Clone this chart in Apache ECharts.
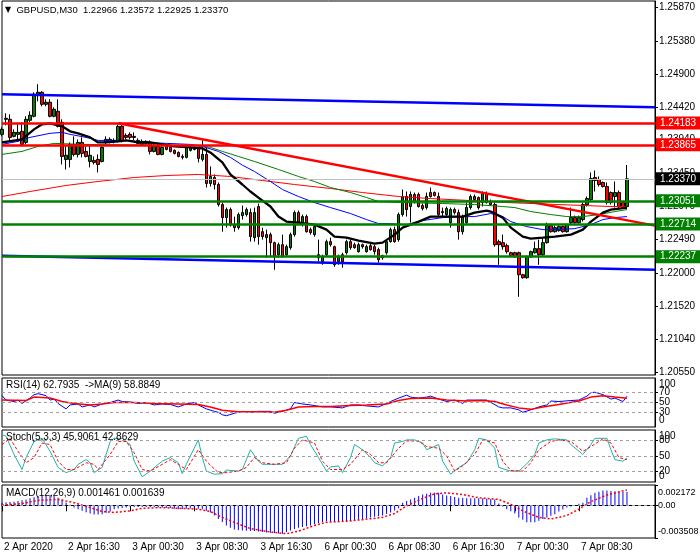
<!DOCTYPE html>
<html><head><meta charset="utf-8">
<script src="https://cdn.jsdelivr.net/npm/echarts@6/dist/echarts.min.js"></script>
<style>html,body{margin:0;padding:0;background:#fff}#c{width:700px;height:560px}</style>
</head><body><div id="c"></div>
<script>
const FONT = '"Liberation Sans", Arial, sans-serif';
const cats = Array.from({length: 164}, (_, i) => String(i));
const tickLabels = ['2 Apr 2020','2 Apr 16:30','3 Apr 00:30','3 Apr 08:30','3 Apr 16:30','6 Apr 00:30','6 Apr 08:30','6 Apr 16:30','7 Apr 00:30','7 Apr 08:30'];
const priceTicks = [1.25870,1.25380,1.24900,1.24420,1.23940,1.23450,1.22970,1.22490,1.22000,1.21520,1.21040,1.20550];
const rsiLevels = [70,50,30];
const stochLevels = [80,50,20];
const oscBounds = [100,0];
const macdTicks = [0.002172,0,-0.003508];
// [open, close, low, high]
const candles = [
[1.24018,1.24091,1.23989,1.24120],[1.24252,1.24237,1.24149,1.24325],[1.24237,1.23974,1.23916,1.24310],[1.23989,1.24047,1.23974,1.24091],
[1.24018,1.24047,1.23945,1.24164],[1.24062,1.23872,1.23843,1.24193],[1.23901,1.24237,1.23872,1.24281],[1.24223,1.24296,1.24193,1.24354],
[1.24281,1.24602,1.24266,1.24631],[1.24602,1.24631,1.24500,1.24748],[1.24631,1.24456,1.24427,1.24646],[1.24456,1.24485,1.24427,1.24529],
[1.24485,1.24281,1.24266,1.24529],[1.24281,1.24383,1.24266,1.24412],[1.24354,1.24135,1.24120,1.24529],[1.24193,1.23697,1.23580,1.24237],
[1.23653,1.23713,1.23507,1.23843],[1.23653,1.23872,1.23537,1.23901],[1.23872,1.23726,1.23697,1.23989],[1.23726,1.23901,1.23683,1.23945],
[1.23901,1.23741,1.23683,1.23974],[1.23770,1.23697,1.23683,1.23843],[1.23624,1.23713,1.23537,1.23843],[1.23639,1.23610,1.23580,1.23697],
[1.23653,1.23580,1.23463,1.23726],[1.23624,1.23829,1.23610,1.23843],[1.23901,1.23945,1.23872,1.23989],[1.23945,1.23916,1.23887,1.23974],
[1.23916,1.23930,1.23887,1.23960],[1.23916,1.24135,1.23901,1.24164],[1.24135,1.23916,1.23901,1.24164],[1.24003,1.23974,1.23945,1.24033],
[1.24018,1.23974,1.23945,1.24047],[1.23974,1.23989,1.23930,1.24047],[1.23930,1.23887,1.23872,1.23960],[1.23872,1.23916,1.23857,1.23945],
[1.23916,1.23887,1.23857,1.23930],[1.23901,1.23770,1.23726,1.23930],[1.23770,1.23843,1.23755,1.23901],[1.23843,1.23726,1.23713,1.23872],
[1.23726,1.23829,1.23713,1.23843],[1.23843,1.23799,1.23785,1.23857],[1.23829,1.23770,1.23755,1.23843],[1.23785,1.23741,1.23726,1.23799],
[1.23755,1.23697,1.23683,1.23770],[1.23697,1.23683,1.23653,1.23726],[1.23683,1.23829,1.23668,1.23843],[1.23785,1.23829,1.23770,1.23857],
[1.23829,1.23799,1.23785,1.23843],[1.23829,1.23668,1.23610,1.23843],[1.23653,1.23726,1.23624,1.23930],[1.23726,1.23303,1.23244,1.23829],
[1.23303,1.23405,1.23259,1.23551],[1.23390,1.23288,1.23215,1.23434],[1.23288,1.22996,1.22967,1.23317],[1.22996,1.22806,1.22601,1.23025],
[1.22806,1.22923,1.22660,1.22952],[1.22923,1.22704,1.22675,1.22952],[1.22704,1.22660,1.22601,1.22821],[1.22660,1.22850,1.22631,1.22879],
[1.22835,1.22879,1.22777,1.22981],[1.22850,1.22923,1.22821,1.22952],[1.22879,1.22529,1.22456,1.22938],[1.22514,1.22879,1.22456,1.22952],
[1.22967,1.22529,1.22412,1.23011],[1.22601,1.22529,1.22485,1.22660],[1.22514,1.22558,1.22221,1.22631],[1.22558,1.22441,1.22237,1.22587],
[1.22441,1.22237,1.22047,1.22456],[1.22266,1.22412,1.22221,1.22441],[1.22412,1.22237,1.22221,1.22558],[1.22266,1.22383,1.22237,1.22412],
[1.22368,1.22558,1.22339,1.22587],[1.22558,1.22879,1.22529,1.22909],[1.22879,1.22733,1.22704,1.22909],[1.22733,1.22821,1.22675,1.22850],
[1.22821,1.22601,1.22587,1.22850],[1.22631,1.22587,1.22558,1.22660],[1.22558,1.22675,1.22529,1.22704],[1.22266,1.22221,1.22164,1.22485],
[1.22164,1.22237,1.22119,1.22266],[1.22266,1.22456,1.22237,1.22485],[1.22456,1.22412,1.22383,1.22514],[1.22383,1.22119,1.22090,1.22397],
[1.22164,1.22237,1.22119,1.22266],[1.22266,1.22164,1.22076,1.22295],[1.22295,1.22456,1.22266,1.22485],[1.22456,1.22368,1.22339,1.22485],
[1.22412,1.22368,1.22354,1.22441],[1.22310,1.22412,1.22295,1.22441],[1.22412,1.22383,1.22354,1.22427],[1.22310,1.22383,1.22295,1.22412],
[1.22397,1.22339,1.22325,1.22427],[1.22383,1.22310,1.22266,1.22412],[1.22339,1.22193,1.22150,1.22368],[1.22221,1.22251,1.22193,1.22266],
[1.22295,1.22456,1.22266,1.22485],[1.22456,1.22631,1.22441,1.22660],[1.22631,1.22456,1.22441,1.22675],[1.22485,1.22850,1.22456,1.22879],
[1.22850,1.23113,1.22821,1.23215],[1.23113,1.22923,1.22821,1.23186],[1.22967,1.23142,1.22733,1.23186],[1.23142,1.23040,1.23011,1.23171],
[1.23142,1.22967,1.22952,1.23171],[1.22981,1.22938,1.22909,1.23011],[1.22952,1.23113,1.22923,1.23171],[1.23171,1.23113,1.23098,1.23244],
[1.23171,1.23127,1.23113,1.23186],[1.23113,1.22850,1.22821,1.23171],[1.22894,1.22879,1.22821,1.22952],[1.22850,1.22938,1.22821,1.22967],
[1.22733,1.22923,1.22660,1.22952],[1.22923,1.22879,1.22850,1.22952],[1.22879,1.22601,1.22485,1.22923],[1.22601,1.22821,1.22558,1.22850],
[1.22733,1.22952,1.22704,1.23025],[1.22952,1.23113,1.22923,1.23142],[1.23113,1.23069,1.23040,1.23142],[1.23098,1.22952,1.22923,1.23113],
[1.23025,1.23157,1.22967,1.23186],[1.23157,1.23025,1.23011,1.23186],[1.23040,1.22996,1.22981,1.23069],[1.22996,1.22412,1.22383,1.23025],
[1.22456,1.22412,1.22119,1.22485],[1.22441,1.22383,1.22339,1.22558],[1.22397,1.22310,1.22281,1.22427],[1.22295,1.22251,1.22237,1.22310],
[1.22295,1.22237,1.22221,1.22310],[1.22295,1.21974,1.21653,1.22310],[1.21974,1.21931,1.21916,1.21988],[1.21931,1.22237,1.21916,1.22251],
[1.22237,1.22310,1.22221,1.22325],[1.22295,1.22354,1.22281,1.22456],[1.22354,1.22266,1.22119,1.22485],[1.22266,1.22441,1.22237,1.22514],
[1.22441,1.22689,1.22427,1.22733],[1.22689,1.22601,1.22587,1.22718],[1.22601,1.22660,1.22587,1.22689],[1.22616,1.22675,1.22601,1.22689],
[1.22675,1.22601,1.22587,1.22689],[1.22601,1.22704,1.22587,1.22718],[1.22733,1.22806,1.22704,1.22952],[1.22806,1.22733,1.22718,1.22835],
[1.22733,1.22806,1.22718,1.22835],[1.22777,1.22996,1.22748,1.23025],[1.22996,1.23083,1.22967,1.23113],[1.23069,1.23375,1.23040,1.23463],
[1.23390,1.23346,1.23186,1.23492],[1.23361,1.23288,1.23259,1.23405],[1.23317,1.23259,1.23244,1.23332],[1.23259,1.23025,1.22996,1.23317],
[1.23171,1.23025,1.22996,1.23186],[1.23113,1.23171,1.22952,1.23332],[1.23171,1.22967,1.22923,1.23200],[1.23025,1.22952,1.22938,1.23040],
[1.22966,1.23370,1.22925,1.23572]
];
// moving averages read at sample bars: [bar, price]
const maBlack = [[0,1.23901],[5,1.23945],[8,1.24091],[10,1.24164],[12,1.24179],[15,1.24135],[17,1.24062],[19,1.24033],[22,1.23974],[24,1.23901],[26,1.23901],[29,1.23916],[31,1.23930],[34,1.23901],[37,1.23901],[43,1.23843],[47,1.23829],[50,1.23814],[52,1.23755],[55,1.23610],[57,1.23434],[60,1.23288],[62,1.23186],[64,1.23098],[67,1.22967],[69,1.22821],[71,1.22748],[74,1.22733],[78,1.22704],[81,1.22631],[83,1.22529],[86,1.22514],[89,1.22470],[93,1.22427],[95,1.22441],[98,1.22558],[100,1.22660],[104,1.22748],[107,1.22821],[111,1.22821],[115,1.22821],[118,1.22879],[121,1.22909],[122,1.22894],[125,1.22806],[127,1.22660],[130,1.22529],[132,1.22500],[135,1.22514],[138,1.22529],[142,1.22558],[145,1.22631],[147,1.22748],[150,1.22879],[152,1.22923],[156,1.22952]];
const maBlue = [[0,1.23872],[4,1.23916],[7,1.23974],[12,1.24033],[15,1.24047],[17,1.24018],[21,1.23974],[24,1.23930],[28,1.23930],[32,1.23930],[35,1.23901],[41,1.23887],[47,1.23872],[50,1.23843],[54,1.23770],[57,1.23683],[60,1.23570],[63,1.23478],[67,1.23332],[70,1.23215],[74,1.23113],[78,1.23025],[82,1.22952],[87,1.22865],[91,1.22777],[94,1.22719],[96,1.22719],[101,1.22704],[105,1.22763],[110,1.22806],[115,1.22821],[118,1.22821],[122,1.22865],[125,1.22821],[127,1.22748],[131,1.22675],[135,1.22631],[139,1.22631],[143,1.22646],[147,1.22704],[150,1.22777],[153,1.22806],[156,1.22821]];
const maGreen = [[0,1.23726],[5,1.23770],[9,1.23843],[13,1.23887],[20,1.23872],[30,1.23865],[40,1.23857],[49,1.23857],[52,1.23829],[55,1.23770],[59,1.23697],[63,1.23624],[69,1.23507],[74,1.23405],[78,1.23332],[82,1.23244],[87,1.23171],[91,1.23098],[94,1.23040],[100,1.23025],[110,1.23011],[118,1.22996],[125,1.22967],[128,1.22952],[132,1.22894],[137,1.22850],[141,1.22821],[145,1.22821],[149,1.22850],[153,1.22894],[156,1.22923]];
const maRed = [[0,1.23113],[7,1.23186],[16,1.23274],[24,1.23332],[33,1.23390],[41,1.23419],[49,1.23434],[57,1.23405],[65,1.23346],[73,1.23288],[82,1.23230],[90,1.23171],[99,1.23113],[107,1.23083],[117,1.23054],[126,1.23025],[139,1.22996],[152,1.22967],[156,1.22967]];
const redLevels = [1.24183, 1.23865];
const greenLevels = [1.23051, 1.22714, 1.22237];
const lastPrice = 1.23370;
const channelUpper = [[0,1.24602],[163,1.24412]];
const channelLower = [[0,1.22251],[163,1.22047]];
const trendLine = [[29,1.24179],[163,1.22689]];
// indicators
const rsi = [[0,64],[1,55],[3,52],[4,55],[5,48],[7,59],[8,66],[9,68],[11,64],[12,55],[13,57],[14,48],[16,37],[17,45],[19,47],[20,41],[22,45],[23,41],[25,47],[27,50],[29,55],[30,52],[32,51],[34,48],[36,50],[38,45],[40,47],[42,46],[44,41],[46,47],[48,50],[49,45],[51,37],[53,32],[54,30],[55,25],[56,23],[58,28],[60,32],[62,30],[64,32],[67,32],[68,28],[70,32],[72,37],[73,50],[75,47],[77,45],[80,41],[82,41],[85,39],[87,45],[89,45],[91,43],[94,41],[96,48],[97,52],[99,59],[101,65],[102,61],[104,59],[106,61],[107,63],[109,57],[111,52],[113,55],[115,48],[116,55],[118,55],[120,55],[121,55],[124,41],[125,39],[127,39],[129,35],[130,30],[132,35],[134,41],[136,45],[137,53],[139,52],[142,54],[144,55],[146,63],[147,70],[148,71],[150,66],[152,57],[153,59],[155,52],[156,62.79]];
const rsiMA = [[0,55],[6,54],[8,61],[12,59],[15,52],[18,48],[22,45],[25,47],[28,50],[33,50],[38,48],[44,47],[49,46],[52,41],[55,34],[59,31],[63,31],[68,30],[71,34],[74,41],[78,42],[82,42],[87,44],[91,45],[96,47],[99,54],[102,58],[107,59],[111,55],[116,53],[120,54],[123,52],[126,45],[129,39],[132,36],[135,41],[139,46],[144,53],[147,61],[150,64],[153,61],[156,58.88]];
const stochMain = [[0,91],[1,88],[3,53],[5,24],[6,47],[8,78],[10,84],[12,59],[14,28],[16,18],[18,24],[19,34],[21,43],[22,37],[23,18],[25,28],[27,78],[28,84],[30,84],[32,72],[33,40],[35,10],[37,21],[39,34],[40,40],[42,47],[44,37],[45,16],[46,34],[49,81],[50,47],[51,21],[53,15],[55,16],[56,23],[59,21],[60,24],[62,62],[64,40],[65,34],[68,34],[70,34],[72,50],[74,84],[76,88],[77,72],[79,47],[81,21],[82,29],[84,31],[85,18],[87,47],[88,72],[90,62],[92,47],[93,37],[95,31],[97,47],[98,75],[100,78],[101,81],[103,81],[105,75],[106,62],[109,72],[110,40],[112,15],[114,28],[116,37],[118,62],[119,84],[121,81],[123,65],[124,28],[127,21],[129,21],[131,35],[133,53],[134,75],[136,81],[138,83],[141,81],[142,72],[145,53],[147,72],[148,84],[151,84],[152,62],[153,43],[155,40],[156,45.91]];
const stochSignal = [[0,72],[2,84],[4,59],[6,37],[8,47],[10,75],[12,72],[14,40],[16,24],[18,24],[21,37],[23,34],[24,24],[27,53],[29,78],[31,78],[33,56],[35,24],[37,21],[40,34],[42,43],[44,34],[46,24],[49,62],[51,40],[54,18],[56,18],[59,21],[61,28],[63,47],[65,37],[68,34],[71,37],[73,65],[75,81],[78,75],[80,40],[82,24],[85,24],[87,34],[90,62],[92,53],[94,37],[96,37],[99,65],[101,79],[104,79],[106,68],[109,65],[111,50],[113,21],[115,31],[118,53],[120,81],[123,75],[125,40],[127,22],[130,21],[132,37],[134,62],[137,78],[139,81],[142,78],[145,59],[147,68],[150,83],[152,75],[154,47],[156,42.86]];
const macdHist = [2.8e-4,3.2e-4,3.6e-4,3.9e-4,4.6e-4,5.3e-4,6.3e-4,7.4e-4,8.6e-4,9.8e-4,10.4e-4,10.8e-4,11.0e-4,10.0e-4,8.0e-4,6.0e-4,3.0e-4,0.5e-4,-2.5e-4,-4.3e-4,
-6.0e-4,-7.5e-4,-8.8e-4,-10.0e-4,-9.8e-4,-9.5e-4,-8.0e-4,-6.7e-4,-4.2e-4,-3.5e-4,-2.9e-4,-2.5e-4,-2.1e-4,-1.8e-4,-1.8e-4,-1.8e-4,-1.8e-4,-2.0e-4,-2.1e-4,-2.3e-4,
-2.5e-4,-2.8e-4,-3.0e-4,-3.6e-4,-4.2e-4,-4.0e-4,-3.7e-4,-3.4e-4,-3.2e-4,-3.7e-4,-4.2e-4,-6.0e-4,-7.7e-4,-11.0e-4,-14.7e-4,-18.0e-4,-21.7e-4,-24.0e-4,-26.0e-4,-26.5e-4,
-27.0e-4,-27.2e-4,-27.5e-4,-27.7e-4,-28.2e-4,-28.7e-4,-29.1e-4,-29.5e-4,-29.8e-4,-30.2e-4,-30.5e-4,-28.7e-4,-27.0e-4,-25.5e-4,-24.0e-4,-23.2e-4,-22.5e-4,-21.7e-4,-20.3e-4,-19.0e-4,
-18.0e-4,-17.0e-4,-17.5e-4,-18.0e-4,-18.0e-4,-18.0e-4,-18.0e-4,-17.2e-4,-16.5e-4,-15.6e-4,-14.7e-4,-13.8e-4,-13.0e-4,-12.3e-4,-11.7e-4,-11.0e-4,-9.3e-4,-7.7e-4,-5.5e-4,-3.2e-4,
2.8e-4,4.5e-4,6.3e-4,8.0e-4,9.8e-4,11.5e-4,12.4e-4,13.3e-4,13.3e-4,13.3e-4,11.5e-4,10.6e-4,9.8e-4,8.9e-4,8.0e-4,7.7e-4,7.4e-4,7.4e-4,7.4e-4,7.4e-4,
7.4e-4,7.0e-4,6.7e-4,6.3e-4,1.8e-4,-1.2e-4,-4.2e-4,-6.5e-4,-8.8e-4,-13.0e-4,-15.6e-4,-18.2e-4,-18.2e-4,-18.2e-4,-16.5e-4,-14.8e-4,-13.0e-4,-11.2e-4,-9.5e-4,-6.7e-4,
-4.6e-4,-2.5e-4,-1.2e-4,0.3e-4,1.5e-4,2.8e-4,8.0e-4,10.7e-4,13.3e-4,14.5e-4,15.8e-4,15.8e-4,15.4e-4,15.0e-4,14.6e-4,14.3e-4,14.61e-4];
const macdSignal = [[0,0],[5,1.8e-4],[9,5.3e-4],[14,6.3e-4],[18,2.8e-4],[22,-2.5e-4],[25,-6.7e-4],[28,-7.7e-4],[32,-6.0e-4],[35,-3.2e-4],[40,-2.5e-4],[44,-3.2e-4],[49,-4.2e-4],[52,-6.7e-4],[55,-13.0e-4],[59,-20.0e-4],[62,-25.0e-4],[67,-28.7e-4],[71,-30.5e-4],[74,-27.7e-4],[78,-21.7e-4],[81,-18.2e-4],[86,-17.0e-4],[90,-15.4e-4],[95,-13.0e-4],[98,-8.8e-4],[101,-0.7e-4],[105,7.4e-4],[108,12.2e-4],[111,13.3e-4],[115,11.5e-4],[119,8.0e-4],[124,6.3e-4],[127,1.0e-4],[130,-6.0e-4],[134,-13.0e-4],[137,-14.7e-4],[141,-11.0e-4],[144,-4.2e-4],[147,3.9e-4],[151,11.0e-4],[154,14.3e-4],[156,16.39e-4]];

const GL = 2, GW = 653;
const txt = {color:'#000', fontSize:10, fontFamily:FONT};
function hLevel(v, col, lineCol, w){
  return {yAxis:v, lineStyle:{color:lineCol, width:w, type:'solid'},
    label:{show:true, position:'end', distance:1, formatter:v.toFixed(5), color:'#fff', backgroundColor:col,
      padding:[2,4,1,4], fontSize:10, fontFamily:FONT}};
}
function seg(pts, col, w){
  return [{coord:pts[0], lineStyle:{color:col, width:w, type:'solid'}, label:{show:false}}, {coord:pts[1]}];
}
function shiftRich(top, bottom, fs){
  return {t:{padding:[top,0,0,0], fontSize:fs, fontFamily:FONT, color:'#000'}, b:{padding:[0,0,bottom,0], fontSize:fs, fontFamily:FONT, color:'#000'}};
}
function xAx(i){
  const bottom = i === 3;
  const iv = (idx) => idx % 16 === 0 && idx / 16 < tickLabels.length;
  return {type:'category', gridIndex:i, data:cats, boundaryGap:false,
    axisLine:{show:bottom, lineStyle:{color:'#000'}},
    axisTick:{show:bottom, interval:iv, length:6, lineStyle:{color:'#000'}},
    axisLabel:{show:bottom, interval:iv, formatter:(v, idx) => tickLabels[Math.round(idx/16)] || '', align:'left', padding:[0,0,0,2], margin:4, ...txt},
    splitLine:{show:false}};
}
function levelAxis(g, vals){
  return {type:'value', gridIndex:g, position:'right', min:0, max:100, splitLine:{show:false},
    axisLine:{show:true, lineStyle:{color:'#000'}},
    axisTick:{show:true, customValues:vals, length:3, lineStyle:{color:'#000'}},
    axisLabel:{customValues:vals, margin:4, ...txt, formatter:(v) => String(v)}};
}
function boundAxis(g, top, bottom){
  return {type:'value', gridIndex:g, position:'right', min:0, max:100, splitLine:{show:false},
    axisLine:{show:false}, axisTick:{show:false},
    axisLabel:{customValues:oscBounds, margin:4, showMinLabel:true, showMaxLabel:true, ...txt, rich:shiftRich(top,bottom,10),
      formatter:(v) => v === 100 ? '{t|100}' : '{b|0}'}};
}
const chart = echarts.init(document.getElementById('c'), null, {renderer:'canvas'});
const levelStyle = {color:'#a0a0a0', width:1, type:[3,3]};
chart.setOption({
  animation:false,
  backgroundColor:'#fff',
  title:[
    {text:'{tri|▼}  GBPUSD,M30  1.22966 1.23572 1.22925 1.23370', left:5, top:5, padding:0,
      textStyle:{fontSize:9.5, fontWeight:'normal', color:'#000', fontFamily:FONT, rich:{tri:{fontSize:8, fontFamily:'"DejaVu Sans"', color:'#000'}}}},
    {text:'RSI(14) 62.7935  ->MA(9) 58.8849', left:6, top:380, padding:0, textStyle:{fontSize:10, fontWeight:'normal', color:'#000', fontFamily:FONT}},
    {text:'Stoch(5,3,3) 45.9061 42.8629', left:6, top:432, padding:0, textStyle:{fontSize:10, fontWeight:'normal', color:'#000', fontFamily:FONT}},
    {text:'MACD(12,26,9) 0.001461 0.001639', left:6, top:488, padding:0, textStyle:{fontSize:10, fontWeight:'normal', color:'#000', fontFamily:FONT}}
  ],
  grid:[
    {left:GL, width:GW, top:1, height:374, show:true, borderColor:'#000', borderWidth:1, backgroundColor:'#fff', outerBoundsMode:'none'},
    {left:GL, width:GW, top:378, height:49, show:true, borderColor:'#000', borderWidth:1, backgroundColor:'#fff', outerBoundsMode:'none'},
    {left:GL, width:GW, top:430, height:52, show:true, borderColor:'#000', borderWidth:1, backgroundColor:'#fff', outerBoundsMode:'none'},
    {left:GL, width:GW, top:485, height:53, show:true, borderColor:'#000', borderWidth:1, backgroundColor:'#fff', outerBoundsMode:'none'}
  ],
  xAxis:[xAx(0), xAx(1), xAx(2), xAx(3)],
  yAxis:[
    {type:'value', gridIndex:0, position:'right', min:1.20514, max:1.25960, splitLine:{show:false},
      axisLine:{show:true, lineStyle:{color:'#000'}},
      axisTick:{show:true, customValues:priceTicks, length:3, lineStyle:{color:'#000'}},
      axisLabel:{customValues:priceTicks, formatter:(v) => v.toFixed(5), margin:4, ...txt}},
    levelAxis(1, rsiLevels),
    levelAxis(2, stochLevels),
    {type:'value', gridIndex:3, position:'right', min:macdTicks[2], max:macdTicks[0], splitLine:{show:false},
      axisLine:{show:true, lineStyle:{color:'#000'}},
      axisTick:{show:true, customValues:macdTicks, length:3, lineStyle:{color:'#000'}},
      axisLabel:{customValues:macdTicks, margin:3, showMinLabel:true, showMaxLabel:true, color:'#000', fontSize:9, fontFamily:FONT, rich:shiftRich(16,12,9),
        formatter:(v) => v === macdTicks[0] ? '{t|' + v.toFixed(6) + '}' : (v === macdTicks[2] ? '{b|' + v.toFixed(6) + '}' : '0.00')}},
    boundAxis(1, 12, 14),
    boundAxis(2, 12, 11)
  ],
  series:[
    {type:'candlestick', xAxisIndex:0, yAxisIndex:0, data:candles, barWidth:3, z:2,
      itemStyle:{color:'#008000', color0:'#ff0000', borderColor:'#000', borderColor0:'#000', borderWidth:1}},
    {type:'line', xAxisIndex:0, yAxisIndex:0, data:maRed, showSymbol:false, z:3, lineStyle:{color:'#ff0000', width:1}},
    {type:'line', xAxisIndex:0, yAxisIndex:0, data:maGreen, showSymbol:false, z:3, lineStyle:{color:'#008000', width:1}},
    {type:'line', xAxisIndex:0, yAxisIndex:0, data:maBlue, showSymbol:false, z:3, lineStyle:{color:'#0000ff', width:1}},
    {type:'line', xAxisIndex:0, yAxisIndex:0, data:maBlack, showSymbol:false, z:4, lineStyle:{color:'#000', width:2.3},
      markLine:{silent:true, symbol:'none', animation:false, precision:6,
        data:[
          {yAxis:lastPrice, lineStyle:{color:'#c0c0c0', width:1, type:'solid'},
            label:{show:true, position:'end', distance:1, formatter:lastPrice.toFixed(5), color:'#fff', backgroundColor:'#000', padding:[2,4,1,4], fontSize:10, fontFamily:FONT}},
          seg(channelUpper, '#0000ff', 2.5),
          seg(channelLower, '#0000ff', 2.5),
          seg(trendLine, '#ff0000', 2.5),
          ...redLevels.map(v => hLevel(v, '#ff0000', '#ff0000', 2.5)),
          ...greenLevels.map(v => hLevel(v, '#008000', '#008000', 2.5))
        ]}},
    {type:'line', xAxisIndex:1, yAxisIndex:1, data:rsi, showSymbol:false, lineStyle:{color:'#0000ff', width:1},
      markLine:{silent:true, symbol:'none', precision:6, label:{show:false}, lineStyle:levelStyle, data:rsiLevels.map(v => ({yAxis:v}))}},
    {type:'line', xAxisIndex:1, yAxisIndex:1, data:rsiMA, showSymbol:false, lineStyle:{color:'#ff0000', width:1.5}},
    {type:'line', xAxisIndex:2, yAxisIndex:2, data:stochMain, showSymbol:false, lineStyle:{color:'#20b2aa', width:1},
      markLine:{silent:true, symbol:'none', precision:6, label:{show:false}, lineStyle:levelStyle, data:stochLevels.map(v => ({yAxis:v}))}},
    {type:'line', xAxisIndex:2, yAxisIndex:2, data:stochSignal, showSymbol:false, lineStyle:{color:'#ff0000', width:1, type:[3,2]}},
    {type:'bar', xAxisIndex:3, yAxisIndex:3, data:macdHist, barWidth:1, itemStyle:{color:'#0000ff'},
      markLine:{silent:true, symbol:'none', precision:6, label:{show:false}, lineStyle:levelStyle, data:[{yAxis:0}]}},
    {type:'line', xAxisIndex:3, yAxisIndex:3, data:macdSignal, showSymbol:false, lineStyle:{color:'#ff0000', width:1.5, type:[2,2]}}
  ]
});
</script></body></html>
